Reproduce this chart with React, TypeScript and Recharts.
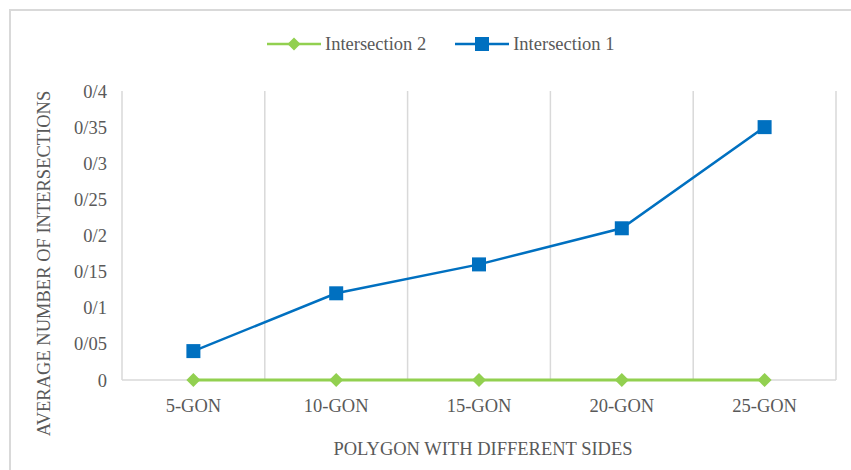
import React from 'react';
import { LineChart, Line, XAxis, YAxis, CartesianGrid } from 'recharts';

const categories = ['5-GON', '10-GON', '15-GON', '20-GON', '25-GON'];
const intersection1 = [0.04, 0.12, 0.16, 0.21, 0.35];
const intersection2 = [0, 0, 0, 0, 0];
const yTicks = [0, 0.05, 0.1, 0.15, 0.2, 0.25, 0.3, 0.35, 0.4];

const data = categories.map((c, i) => ({ name: c, i1: intersection1[i], i2: intersection2[i] }));

const FONT = '"Liberation Serif", "Times New Roman", serif';
const TEXT = '#595959';
const BLUE = '#0070c0';
const GREEN = '#92d050';
const GRID = '#d9d9d9';
const FS = 18.5;

const fmt = (v: number) => (v === 0 ? '0' : String(v).replace('.', '/'));

const SquareDot = (p: any) => {
  const { cx, cy } = p;
  if (cx == null || cy == null) return null;
  return <rect key={p.index} x={cx - 7} y={cy - 7} width={14} height={14} fill={BLUE} />;
};

const DiamondDot = (p: any) => {
  const { cx, cy } = p;
  if (cx == null || cy == null) return null;
  const r = 7;
  return (
    <path
      key={p.index}
      d={`M${cx},${cy - r} L${cx + r},${cy} L${cx},${cy + r} L${cx - r},${cy} Z`}
      fill={GREEN}
    />
  );
};

const LegendItem = ({ color, shape, label }: { color: string; shape: 'square' | 'diamond'; label: string }) => (
  <div style={{ display: 'flex', alignItems: 'center', marginRight: 29 }}>
    <svg width={54} height={16} style={{ display: 'block' }}>
      <line x1={0} y1={8} x2={54} y2={8} stroke={color} strokeWidth={2.5} />
      {shape === 'square' ? (
        <rect x={20} y={1} width={14} height={14} fill={color} />
      ) : (
        <path d="M27,1.5 L33.5,8 L27,14.5 L20.5,8 Z" fill={color} />
      )}
    </svg>
    <span style={{ marginLeft: 4, fontFamily: FONT, fontSize: FS, color: TEXT, lineHeight: '20px' }}>{label}</span>
  </div>
);

export default function App() {
  return (
    <div style={{ position: 'absolute', left: 0, top: 0, width: 851, height: 470, background: '#fff' }}>
      <div
        style={{
          position: 'absolute',
          left: 9,
          top: 9,
          width: 840,
          height: 459,
          borderTop: `2px solid ${GRID}`,
          borderLeft: `2px solid ${GRID}`,
        }}
      />
      <div
        style={{
          position: 'absolute',
          left: 267,
          top: 34,
          display: 'flex',
          alignItems: 'center',
        }}
      >
        <LegendItem color={GREEN} shape="diamond" label="Intersection 2" />
        <LegendItem color={BLUE} shape="square" label="Intersection 1" />
      </div>
      <div style={{ position: 'absolute', left: 0, top: 0 }}>
        <LineChart
          width={851}
          height={470}
          data={data}
          margin={{ top: 91, right: 15, bottom: 0, left: 0 }}
          style={{ fontFamily: FONT }}
        >
          <CartesianGrid
            stroke={GRID}
            strokeWidth={1.5}
            verticalCoordinatesGenerator={({ offset }: any) => {
              const n = categories.length;
              return Array.from({ length: n + 1 }, (_, i) => offset.left + (offset.width * i) / n);
            }}
            horizontalCoordinatesGenerator={({ offset }: any) => [offset.top + offset.height]}
          />
          <XAxis
            dataKey="name"
            scale="band"
            axisLine={false}
            tickLine={false}
            tickSize={0}
            tickMargin={19}
            height={90}
            tick={{ fill: TEXT, fontSize: FS, fontFamily: FONT }}
            label={(props: any) => {
              const vb = props.viewBox;
              return (
                <text
                  x={vb.x + vb.width / 2 + 4}
                  y={vb.y + 69}
                  textAnchor="middle"
                  dominantBaseline="central"
                  fill={TEXT}
                  fontSize={FS}
                  fontFamily={FONT}
                >
                  POLYGON WITH DIFFERENT SIDES
                </text>
              );
            }}
          />
          <YAxis
            width={122}
            domain={[0, 0.4]}
            ticks={yTicks}
            tickFormatter={fmt}
            axisLine={false}
            tickLine={false}
            tickSize={0}
            tickMargin={15}
            tick={{ fill: TEXT, fontSize: FS, fontFamily: FONT }}
            label={(props: any) => {
              const vb = props.viewBox;
              const x = vb.x + 44;
              const y = vb.y + vb.height / 2 + 28;
              return (
                <text
                  x={x}
                  y={y}
                  transform={`rotate(-90, ${x}, ${y})`}
                  textAnchor="middle"
                  dominantBaseline="central"
                  fill={TEXT}
                  fontSize={FS}
                  fontFamily={FONT}
                >
                  AVERAGE NUMBER OF INTERSECTIONS
                </text>
              );
            }}
          />
          <Line
            type="linear"
            dataKey="i2"
            name="Intersection 2"
            stroke={GREEN}
            strokeWidth={3}
            dot={DiamondDot}
            activeDot={false}
            isAnimationActive={false}
          />
          <Line
            type="linear"
            dataKey="i1"
            name="Intersection 1"
            stroke={BLUE}
            strokeWidth={2.5}
            dot={SquareDot}
            activeDot={false}
            isAnimationActive={false}
          />
        </LineChart>
      </div>
    </div>
  );
}
